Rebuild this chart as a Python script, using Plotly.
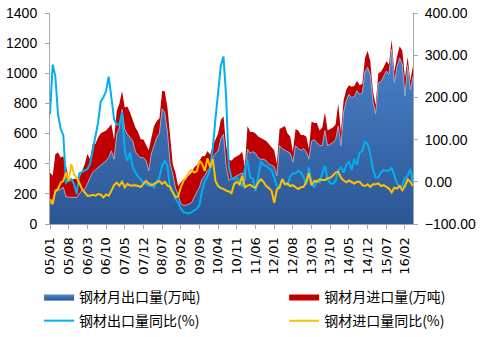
import plotly.graph_objects as go

# ---- categories (monthly, 2005/01 - 2016/05) ----
months = [f"{y % 100:02d}/{m:02d}" for y in range(2005, 2017) for m in range(1, 13)][:137]
tick_labels = months[::7]

# ---- series ----
# 钢材月出口量(万吨)
export_vol = [
    132, 155, 210, 220, 232, 243, 180, 177, 177, 177, 177, 200,
    225, 232, 265, 309, 342, 360, 375, 390, 400, 420, 441, 486,
    430, 596, 640, 760, 629, 596, 574, 552, 480, 455, 441, 440,
    420, 353, 470, 530, 574, 600, 765, 740, 610, 400, 331, 240,
    195, 135, 125, 125, 130, 140, 177, 210, 245, 300, 320, 355,
    375, 440, 470, 485, 565, 596, 380, 290, 300, 310, 315, 330,
    340, 287, 497, 470, 480, 470, 440, 430, 430, 420, 400, 390,
    380, 320, 520, 500, 490, 480, 470, 410, 520, 500, 490, 500,
    480, 430, 550, 560, 540, 520, 520, 620, 520, 530, 540, 560,
    650, 520, 740, 820, 860, 840, 845, 885, 860, 870, 1010, 1040,
    990, 810, 730, 935, 945, 980, 1015, 995, 1159, 940, 1040, 1103,
    1060, 850, 1054, 890, 980,
]
# 钢材月进口量(万吨)
import_vol = [
    210, 165, 253, 255, 209, 207, 206, 123, 113, 123, 123, 109,
    125, 165, 199, 121, 188, 170, 199, 210, 210, 200, 199, 176,
    130, 154, 160, 123, 144, 184, 166, 132, 160, 155, 122, 120,
    100, 137, 104, 120, 110, 100, 118, 140, 163, 160, 66, 100,
    55, 141, 173, 180, 190, 200, 198, 180, 175, 150, 130, 130,
    85, 80, 90, 115, 125, 119, 140, 140, 120, 130, 135, 130,
    140, 93, 153, 140, 130, 130, 140, 140, 130, 130, 130, 120,
    110, 80, 110, 140, 160, 120, 110, 70, 110, 120, 100, 90,
    100, 70, 130, 110, 130, 100, 120, 120, 100, 100, 100, 100,
    150, 90, 80, 70, 60, 70, 70, 65, 60, 60, 90, 110,
    90, 70, 60, 65, 65, 60, 65, 65, 66, 70, 70, 77,
    90, 120, 56, 60, 70,
]
# 钢材出口量同比(%)
export_yoy = [
    160, 278, 250, 160, 125, 110, -2, 2, 6, -5, -29, 20,
    24, 26, 30, 42, 73, 110, 140, 190, 200, 215, 249, 200,
    148, 136, 136, 165, 73, 50, 69, 34, 22, 12, 6, -2,
    -5, -9, -5, -13, 2, 10, 38, 50, 38, -17, -25, -40,
    -49, -63, -72, -74, -75, -72, -68, -64, -55, -21, 2, 12,
    30, 80, 150, 215, 275, 297, 200, 35, 8, 5, 10, 2,
    -12, 30, 50, 10, 8, -22, 15, 48, 40, 38, 32, 28,
    10, -10, -13, 8, -4, -7, 12, 20, 20, 26, 22, 12,
    -7, 34, -5, -13, 3, -2, 20, 38, 6, -3, -5, 2,
    28, 34, 22, 40, 48, 28, 54, 40, 69, 73, 95, 90,
    65, 30, 10, 10, 22, 28, 26, 26, 34, 14, -4, -12,
    -10, 10, 14, 30, -2,
]
# 钢材进口量同比(%)
import_yoy = [
    -41, -53, -21, -17, -2, 2, 22, 2, 42, 18, 10, -2,
    -17, -25, -33, -33, -31, -33, -29, -30, -37, -30, -33, -21,
    -8, -2, -9, 0, -13, -5, -9, -9, -8, -10, -12, -5,
    2, -4, -9, -5, -2, 2, -5, 0, -9, -12, -25, -36,
    -35, -13, 2, 10, 22, 28, 22, 25, 50, 42, 26, 56,
    34, 54, 2, -10, -15, -17, -21, -23, -27, -5, 0, -6,
    14, -13, -9, -7, -12, -14, -2, 6, 0, -10, -15, -21,
    -50, -18, -13, 6, -6, -4, -10, -8, -13, -17, -13, -12,
    0, 20, -8, 2, 0, 6, 4, 4, 8, 10, 15, 22,
    24, 10, 3, -1, 3, 0, -4, 0, 0, -8, -10, -6,
    -12, -6, -6, -4, -10, -8, -12, -16, -25, -14, -16, -10,
    -20, -10, 6, 0, -10,
]

CJK = "Noto Sans CJK SC, sans-serif"
NUM = "Liberation Sans, Arial, sans-serif"
XNUM = "DejaVu Sans, sans-serif"
AXIS_GREY = "#a6a6a6"

fig = go.Figure()
fig.add_trace(go.Scatter(
    x=months, y=export_vol, name="钢材月出口量(万吨)", mode="lines",
    stackgroup="vol", line=dict(width=0.8, color="#9fb6d8"),
    fillcolor="#3a6db0",
    fillgradient=dict(type="vertical", start=0, stop=1200,
                      colorscale=[[0, "#2c5694"], [1, "#4a82cb"]]),
    legend="legend", hoverinfo="skip",
))
fig.add_trace(go.Scatter(
    x=months, y=import_vol, name="钢材月进口量(万吨)", mode="lines",
    stackgroup="vol", line=dict(width=0, color="#c00000"),
    fillcolor="#c00000", legend="legend2", hoverinfo="skip",
))
fig.add_trace(go.Scatter(
    x=months, y=export_yoy, name="钢材出口量同比(%)", mode="lines",
    yaxis="y2", line=dict(width=2, color="#00b0f0"),
    legend="legend3", hoverinfo="skip",
))
fig.add_trace(go.Scatter(
    x=months, y=import_yoy, name="钢材进口量同比(%)", mode="lines",
    yaxis="y2", line=dict(width=2, color="#ffc000"),
    legend="legend4", hoverinfo="skip",
))

def leg(x, y):
    return dict(x=x, y=y, xanchor="left", yanchor="middle",
                orientation="v", bgcolor="rgba(0,0,0,0)", borderwidth=0,
                font=dict(family=CJK, size=14, color="#000"))

fig.update_layout(
    width=483, height=337,
    margin=dict(l=50, r=70, t=13, b=113, autoexpand=False),
    paper_bgcolor="white", plot_bgcolor="white",
    font=dict(family=NUM, size=13, color="#000"),
    showlegend=True,
    xaxis=dict(type="category", range=[0, 136], tickmode="array",
               tickvals=tick_labels, ticktext=tick_labels, tickangle=-90,
               showline=True, linecolor=AXIS_GREY, linewidth=1,
               ticks="outside", ticklen=4, tickcolor=AXIS_GREY,
               ticklabelstandoff=3, automargin=False,
               showgrid=False, zeroline=False,
               tickfont=dict(family=XNUM, size=13, color="#000")),
    yaxis=dict(range=[0, 1400], dtick=200, tickmode="linear", tick0=0,
               showline=True, linecolor=AXIS_GREY, linewidth=1,
               ticks="outside", ticklen=4, tickcolor=AXIS_GREY,
               ticklabelstandoff=5, automargin=False,
               showgrid=False, zeroline=False,
               tickfont=dict(family=NUM, size=14, color="#000")),
    yaxis2=dict(range=[-100, 400], dtick=100, tick0=-100, tickmode="linear",
                tickformat=".2f", overlaying="y", side="right",
                showline=True, linecolor=AXIS_GREY, linewidth=1,
                ticks="outside", ticklen=4, tickcolor=AXIS_GREY,
                ticklabelstandoff=4, automargin=False,
                showgrid=False, zeroline=False,
                tickfont=dict(family=NUM, size=14, color="#000")),
    legend=leg(-0.03, -0.346),
    legend2=leg(0.645, -0.346),
    legend3=leg(-0.03, -0.460),
    legend4=leg(0.645, -0.460),
)

fig.write_html("out.html")
